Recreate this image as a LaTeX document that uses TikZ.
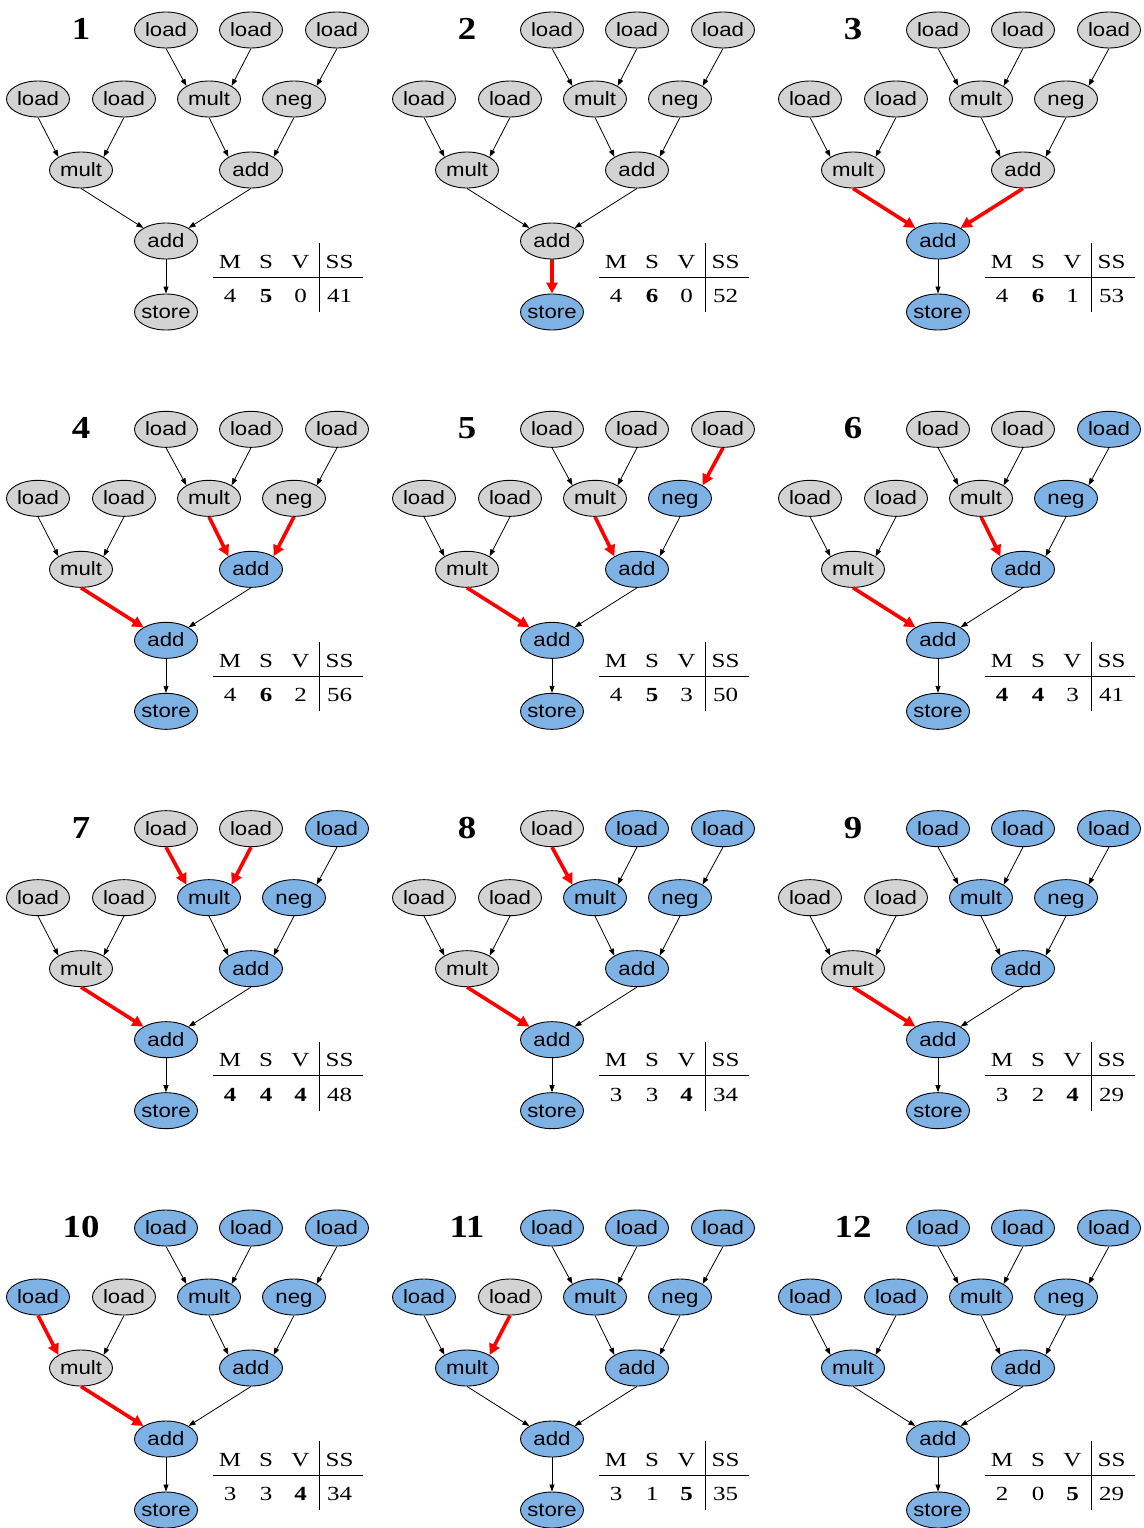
\documentclass[tikz,border=0pt]{standalone}
\usepackage{fontspec}
\usepackage{graphicx}
\usetikzlibrary{shapes.geometric,arrows.meta}
\newfontfamily\nodefont{Liberation Sans}
\newfontfamily\tabfont{Liberation Serif}
\definecolor{nodegray}{RGB}{211,211,211}
\definecolor{nodeblue}{RGB}{127,178,228}
% widened lettering; node labels take no width of their own so every ellipse keeps its size
\newcommand\wide[1]{\makebox[0pt]{\scalebox{1.15}[1]{#1}}}
\newcommand\widetab[1]{\scalebox{1.25}[1]{#1}}

\tikzset{
  idle/.style={ellipse, draw=black, line width=0.9pt, fill=nodegray,
    minimum width=63pt, minimum height=36pt, inner sep=0pt,
    font=\nodefont\fontsize{19.3pt}{22pt}\selectfont,
    text height=13pt, text depth=0pt},
  done/.style={idle, fill=nodeblue},
  dep/.style={draw=black, line width=0.8pt, -{Triangle[length=7pt,width=5pt]}},
  hot/.style={draw=red, line width=3.6pt, -{Triangle[length=11pt,width=11pt]}},
  lbl/.style={inner sep=0pt, font=\tabfont\bfseries\fontsize{32pt}{34pt}\selectfont},
  tab/.style={inner sep=0pt, anchor=base, font=\tabfont\fontsize{20pt}{24pt}\selectfont},
  rule/.style={draw=black, line width=0.8pt},
  % default state of every operation and every dependency
  n-Ta/.style={idle}, n-Tb/.style={idle}, n-Tc/.style={idle},
  n-La/.style={idle}, n-Lb/.style={idle}, n-Mu/.style={idle}, n-Ng/.style={idle},
  n-Ml/.style={idle}, n-Ad/.style={idle}, n-Ar/.style={idle}, n-St/.style={idle},
  e-LaMl/.style={dep}, e-LbMl/.style={dep}, e-TaMu/.style={dep}, e-TbMu/.style={dep},
  e-TcNg/.style={dep}, e-MuAd/.style={dep}, e-NgAd/.style={dep},
  e-MlAr/.style={dep}, e-AdAr/.style={dep}, e-ArSt/.style={dep},
}

% #1 step, #2 offset, #3 state overrides, #4-#7 table entries M, S, V, SS
\newcommand\opgraph[7]{%
\begin{scope}[shift={(#2)},#3]
  \node[lbl] (g#1num) at (81,29) {\scalebox{1.15}[1]{#1}};
  \node[n-Ta] (g#1Ta) at (166,30) {\wide{load}};
  \node[n-Tb] (g#1Tb) at (251,30) {\wide{load}};
  \node[n-Tc] (g#1Tc) at (337,30) {\wide{load}};
  \node[n-La] (g#1La) at (38,99) {\wide{load}};
  \node[n-Lb] (g#1Lb) at (124,99) {\wide{load}};
  \node[n-Mu] (g#1Mu) at (209,99) {\wide{mult}};
  \node[n-Ng] (g#1Ng) at (294,99) {\wide{neg}};
  \node[n-Ml] (g#1Ml) at (81,170) {\wide{mult}};
  \node[n-Ad] (g#1Ad) at (251,170) {\wide{add}};
  \node[n-Ar] (g#1Ar) at (166,241) {\wide{add}};
  \node[n-St] (g#1St) at (166,312) {\wide{store}};
  \draw[e-LaMl] (g#1La.south) -- (g#1Ml.north west);
  \draw[e-LbMl] (g#1Lb.south) -- (g#1Ml.north east);
  \draw[e-TaMu] (g#1Ta.south) -- (g#1Mu.north west);
  \draw[e-TbMu] (g#1Tb.south) -- (g#1Mu.north east);
  \draw[e-TcNg] (g#1Tc.south) -- (g#1Ng.north east);
  \draw[e-MuAd] (g#1Mu.south) -- (g#1Ad.north west);
  \draw[e-NgAd] (g#1Ng.south) -- (g#1Ad.north east);
  \draw[e-MlAr] (g#1Ml.south) -- (g#1Ar.north west);
  \draw[e-AdAr] (g#1Ad.south) -- (g#1Ar.north east);
  \draw[e-ArSt] (g#1Ar.south) -- (g#1St.north);
  % cost table
  \node[tab] (g#1hM) at (230,268) {\widetab{M}};
  \node[tab] (g#1hS) at (266,268) {\widetab{S}};
  \node[tab] (g#1hV) at (300.5,268) {\widetab{V}};
  \node[tab] (g#1hSS) at (339.5,268) {\widetab{SS}};
  \node[tab] (g#1vM) at (230,302.5) {\widetab{#4}};
  \node[tab] (g#1vS) at (266,302.5) {\widetab{#5}};
  \node[tab] (g#1vV) at (300.5,302.5) {\widetab{#6}};
  \node[tab] (g#1vSS) at (339.5,302.5) {\widetab{#7}};
  \draw[rule] (213,277) -- (363,277);
  \draw[rule] (319.5,243) -- (319.5,312);
\end{scope}}

\begin{document}
\begin{tikzpicture}[x=1pt,y=-1pt]
  \fill[white] (0,0) rectangle (1143,1528);
  \useasboundingbox (0,0) rectangle (1143,1528);

  \opgraph{1}{0,0}{}{4}{\textbf{5}}{0}{41}
  \opgraph{2}{386,0}{n-St/.style={done}, e-ArSt/.style={hot}}{4}{\textbf{6}}{0}{52}
  \opgraph{3}{772,0}{n-Ar/.style={done}, n-St/.style={done},
    e-MlAr/.style={hot}, e-AdAr/.style={hot}}{4}{\textbf{6}}{1}{53}

  \opgraph{4}{0,399.33}{n-Ad/.style={done}, n-Ar/.style={done}, n-St/.style={done},
    e-MuAd/.style={hot}, e-NgAd/.style={hot}, e-MlAr/.style={hot}}{4}{\textbf{6}}{2}{56}
  \opgraph{5}{386,399.33}{n-Ng/.style={done}, n-Ad/.style={done}, n-Ar/.style={done}, n-St/.style={done},
    e-TcNg/.style={hot}, e-MuAd/.style={hot}, e-MlAr/.style={hot}}{4}{\textbf{5}}{3}{50}
  \opgraph{6}{772,399.33}{n-Tc/.style={done}, n-Ng/.style={done}, n-Ad/.style={done}, n-Ar/.style={done}, n-St/.style={done},
    e-MuAd/.style={hot}, e-MlAr/.style={hot}}{\textbf{4}}{\textbf{4}}{3}{41}

  \opgraph{7}{0,798.67}{n-Tc/.style={done}, n-Mu/.style={done}, n-Ng/.style={done}, n-Ad/.style={done}, n-Ar/.style={done}, n-St/.style={done},
    e-TaMu/.style={hot}, e-TbMu/.style={hot}, e-MlAr/.style={hot}}{\textbf{4}}{\textbf{4}}{\textbf{4}}{48}
  \opgraph{8}{386,798.67}{n-Tb/.style={done}, n-Tc/.style={done}, n-Mu/.style={done}, n-Ng/.style={done}, n-Ad/.style={done}, n-Ar/.style={done}, n-St/.style={done},
    e-TaMu/.style={hot}, e-MlAr/.style={hot}}{3}{3}{\textbf{4}}{34}
  \opgraph{9}{772,798.67}{n-Ta/.style={done}, n-Tb/.style={done}, n-Tc/.style={done}, n-Mu/.style={done}, n-Ng/.style={done}, n-Ad/.style={done}, n-Ar/.style={done}, n-St/.style={done},
    e-MlAr/.style={hot}}{3}{2}{\textbf{4}}{29}

  \opgraph{10}{0,1198}{n-Ta/.style={done}, n-Tb/.style={done}, n-Tc/.style={done}, n-La/.style={done}, n-Mu/.style={done}, n-Ng/.style={done}, n-Ad/.style={done}, n-Ar/.style={done}, n-St/.style={done},
    e-LaMl/.style={hot}, e-MlAr/.style={hot}}{3}{3}{\textbf{4}}{34}
  \opgraph{11}{386,1198}{n-Ta/.style={done}, n-Tb/.style={done}, n-Tc/.style={done}, n-La/.style={done}, n-Mu/.style={done}, n-Ng/.style={done}, n-Ml/.style={done}, n-Ad/.style={done}, n-Ar/.style={done}, n-St/.style={done},
    e-LbMl/.style={hot}}{3}{1}{\textbf{5}}{35}
  \opgraph{12}{772,1198}{n-Ta/.style={done}, n-Tb/.style={done}, n-Tc/.style={done}, n-La/.style={done}, n-Lb/.style={done}, n-Mu/.style={done}, n-Ng/.style={done}, n-Ml/.style={done}, n-Ad/.style={done}, n-Ar/.style={done}, n-St/.style={done}}{2}{0}{\textbf{5}}{29}
\end{tikzpicture}
\end{document}
